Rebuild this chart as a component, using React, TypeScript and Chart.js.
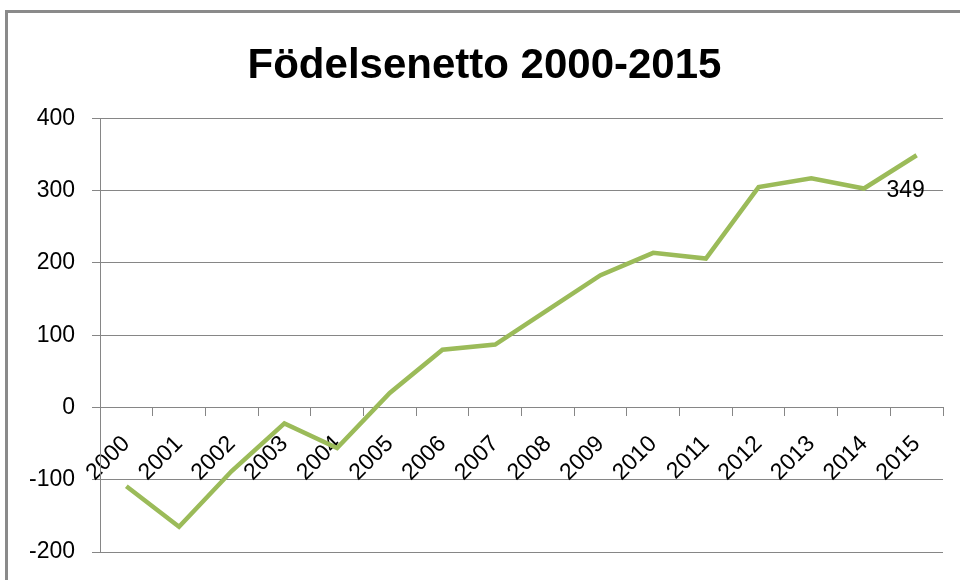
import React, { useEffect, useRef } from "react";
import { Chart, registerables } from "chart.js";

Chart.register(...registerables);

const TITLE = "Födelsenetto 2000-2015";
const YEARS = ["2000","2001","2002","2003","2004","2005","2006","2007","2008","2009","2010","2011","2012","2013","2014","2015"];
const VALUES = [-109, -165, -88, -22, -56, 20, 80, 87, 135, 183, 214, 206, 305, 317, 303, 349];
const Y_MIN = -200;
const Y_MAX = 400;
const Y_STEP = 100;

const LINE_COLOR = "#9BBB59";
const GRID_COLOR = "#868686";
const FONT_FAMILY = "'Liberation Sans', Arial, sans-serif";

const lastLabelPlugin = {
  id: "lastLabel",
  afterDatasetsDraw(chart: any) {
    const meta = chart.getDatasetMeta(0);
    const idx = VALUES.length - 1;
    const pt = meta.data[idx];
    if (!pt) return;
    const ctx = chart.ctx;
    ctx.save();
    ctx.font = `23px ${FONT_FAMILY}`;
    ctx.fillStyle = "#000";
    ctx.textAlign = "center";
    ctx.textBaseline = "middle";
    ctx.fillText(String(VALUES[idx]), pt.x - 11, pt.y + 35);
    ctx.restore();
  },
};

export default function App() {
  const ref = useRef<HTMLCanvasElement>(null);
  useEffect(() => {
    if (!ref.current) return;
    const chart = new Chart(ref.current, {
      type: "line",
      data: {
        labels: YEARS,
        datasets: [
          {
            data: VALUES,
            borderColor: LINE_COLOR,
            backgroundColor: LINE_COLOR,
            borderWidth: 4.5,
            pointRadius: 0,
            tension: 0,
            fill: false,
          },
        ],
      },
      options: {
        responsive: false,
        animation: false,
        devicePixelRatio: 1,
        layout: { padding: { left: 26, right: 17, top: 0, bottom: 28 } },
        plugins: {
          legend: { display: false },
          tooltip: { enabled: false },
          title: {
            display: true,
            text: TITLE,
            color: "#000",
            font: { family: FONT_FAMILY, size: 42, weight: "bold", lineHeight: 1.2 },
            padding: { top: 41, bottom: 27 },
          },
        },
        scales: {
          x: {
            type: "category",
            position: { y: 0 } as any,
            offset: true,
            afterFit: (scale: any) => {
              scale.paddingTop = 0;
              scale.paddingBottom = 0;
              scale.paddingLeft = 0;
              scale.paddingRight = 0;
            },
            grid: {
              offset: true,
              drawOnChartArea: false,
              drawTicks: true,
              tickLength: 8,
              color: GRID_COLOR,
              lineWidth: 1,
            },
            border: { display: true, color: GRID_COLOR, width: 1 },
            ticks: {
              autoSkip: false,
              maxRotation: 45,
              minRotation: 45,
              padding: 15,
              color: "#000",
              font: { family: FONT_FAMILY, size: 23 },
            },
          },
          y: {
            min: Y_MIN,
            max: Y_MAX,
            afterFit: (scale: any) => {
              scale.width = 74;
              scale.paddingTop = 0;
              scale.paddingBottom = 0;
            },
            grid: {
              color: GRID_COLOR,
              lineWidth: 1,
              drawTicks: true,
              tickLength: 8,
            },
            border: { display: true, color: GRID_COLOR, width: 1 },
            ticks: {
              stepSize: Y_STEP,
              padding: 17,
              color: "#000",
              font: { family: FONT_FAMILY, size: 23 },
            },
          },
        },
      },
      plugins: [lastLabelPlugin],
    });
    return () => chart.destroy();
  }, []);

  return (
    <div style={{ position: "absolute", left: 0, top: 0, width: 960, height: 580, overflow: "hidden", background: "#fff" }}>
      <div style={{ position: "absolute", left: 5, top: 10, width: 1200, height: 1000, borderLeft: "3px solid #8a8a8a", borderTop: "3px solid #8a8a8a" }} />
      <canvas ref={ref} width={960} height={580} style={{ position: "absolute", left: 0, top: 0, width: 960, height: 580 }} />
    </div>
  );
}
